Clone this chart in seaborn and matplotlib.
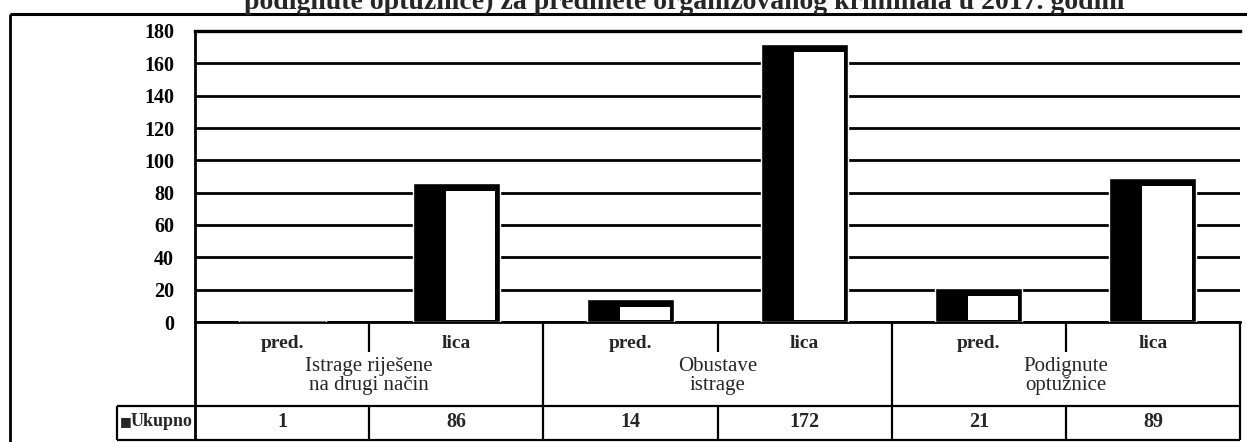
import matplotlib
matplotlib.use("Agg")
import matplotlib.pyplot as plt
from matplotlib.lines import Line2D
import seaborn as sns
import pandas as pd

# Data
groups = ["Istrage riješene\nna drugi način", "Obustave\nistrage", "Podignute\noptužnice"]
subcats = ["pred.", "lica"]
values = [1, 86, 14, 172, 21, 89]
series_name = "Ukupno"
yticks = [0, 20, 40, 60, 80, 100, 120, 140, 160, 180]
title = "podignute optužnice) za predmete organizovanog kriminala u 2017. godini"

sns.set_theme(style="white")
plt.rcParams["font.family"] = ["Liberation Serif", "DejaVu Serif"]

W, H = 1247, 442
fig = plt.figure(figsize=(W / 100, H / 100), dpi=100)
fig.patch.set_facecolor("white")


def fx(px):
    return px / W


def fy(py):
    return 1 - py / H


def hline(y, x0, x1, lw=1.6):
    fig.add_artist(Line2D([fx(x0), fx(x1)], [fy(y), fy(y)], color="black",
                          lw=lw, transform=fig.transFigure, solid_capstyle="butt"))


def vline(x, y0, y1, lw=1.6):
    fig.add_artist(Line2D([fx(x), fx(x)], [fy(y0), fy(y1)], color="black",
                          lw=lw, transform=fig.transFigure, solid_capstyle="butt"))


# Plot area
x_left, x_right, y_top, y_zero = 195, 1240, 31, 322
ax = fig.add_axes([fx(x_left), fy(y_zero), fx(x_right) - fx(x_left), fy(y_top) - fy(y_zero)])

labels = [f"{g.split(chr(10))[0]} {s}" for g in groups for s in subcats]
df = pd.DataFrame({"cat": labels, "value": values})

# Outer dark bar
sns.barplot(data=df, x="cat", y="value", order=labels, color="black",
            width=0.5, saturation=1, ax=ax, zorder=3)

# White face of each bar, set into the dark body
left_band, right_edge = 0.19, 0.025
top_in, bot_in = 5.0, 1.5
for i, v in enumerate(values):
    h = max(v - top_in - bot_in, 0)
    if h > 0:
        ax.bar(i - 0.25 + left_band, h, bottom=bot_in,
               width=0.5 - left_band - right_edge, align="edge",
               color="white", edgecolor="none", zorder=4)

ax.set_xlim(-0.5, len(values) - 0.5)
ax.set_ylim(0, 180)
ax.set_yticks(yticks)
ax.set_yticklabels([str(t) for t in yticks], fontsize=14.5, fontweight="bold")
ax.tick_params(axis="y", length=0, pad=15, colors="black")
ax.set_xticks([])
ax.set_xlabel("")
ax.set_ylabel("")
ax.grid(axis="y", color="black", lw=2.0)
ax.set_axisbelow(True)
ax.spines["right"].set_visible(False)
ax.spines["top"].set_linewidth(2.4)
ax.spines["left"].set_linewidth(2.0)
ax.spines["bottom"].set_linewidth(2.0)
for side in ["top", "left", "bottom"]:
    ax.spines[side].set_color("black")

# Outer frame
hline(14, 10, W, lw=2.2)
vline(10, 14, H, lw=2.0)

# Table under the bars
col_w = (x_right - x_left) / len(values)
cols = [x_left + k * col_w for k in range(len(values) + 1)]
row_sep, row_bot, sub_bot = 406, 440, 352
hline(row_sep, 117, x_right)
hline(row_bot, 117, x_right)
vline(117, row_sep, row_bot)
vline(x_left, y_zero, row_bot, lw=2.0)
for k, xc in enumerate(cols[1:], start=1):
    if k % 2 == 0:
        vline(xc, y_zero, row_bot)
    else:
        vline(xc, y_zero, sub_bot)
        vline(xc, row_sep, row_bot)

for k, lab in enumerate([s for _ in groups for s in subcats]):
    cx = (cols[k] + cols[k + 1]) / 2
    fig.text(fx(cx), fy(344), lab, ha="center", va="center", fontsize=14,
             fontweight="bold")
    fig.text(fx(cx), fy(422), str(values[k]), ha="center", va="center",
             fontsize=14.5, fontweight="bold")

for g, name in enumerate(groups):
    cx = (cols[2 * g] + cols[2 * g + 2]) / 2
    fig.text(fx(cx), fy(376), name, ha="center", va="center", fontsize=15,
             linespacing=1.0)

# Series key in the data row
fig.text(fx(120), fy(422), "■", ha="left", va="center", fontsize=9,
         family=["DejaVu Sans"])
fig.text(fx(131), fy(422), series_name, ha="left", va="center", fontsize=13,
         fontweight="bold")

# Title
fig.text(fx(684), fy(9), title, ha="center", va="baseline", fontsize=20,
         fontweight="bold")

fig.savefig("out.png", dpi=100, facecolor="white")
